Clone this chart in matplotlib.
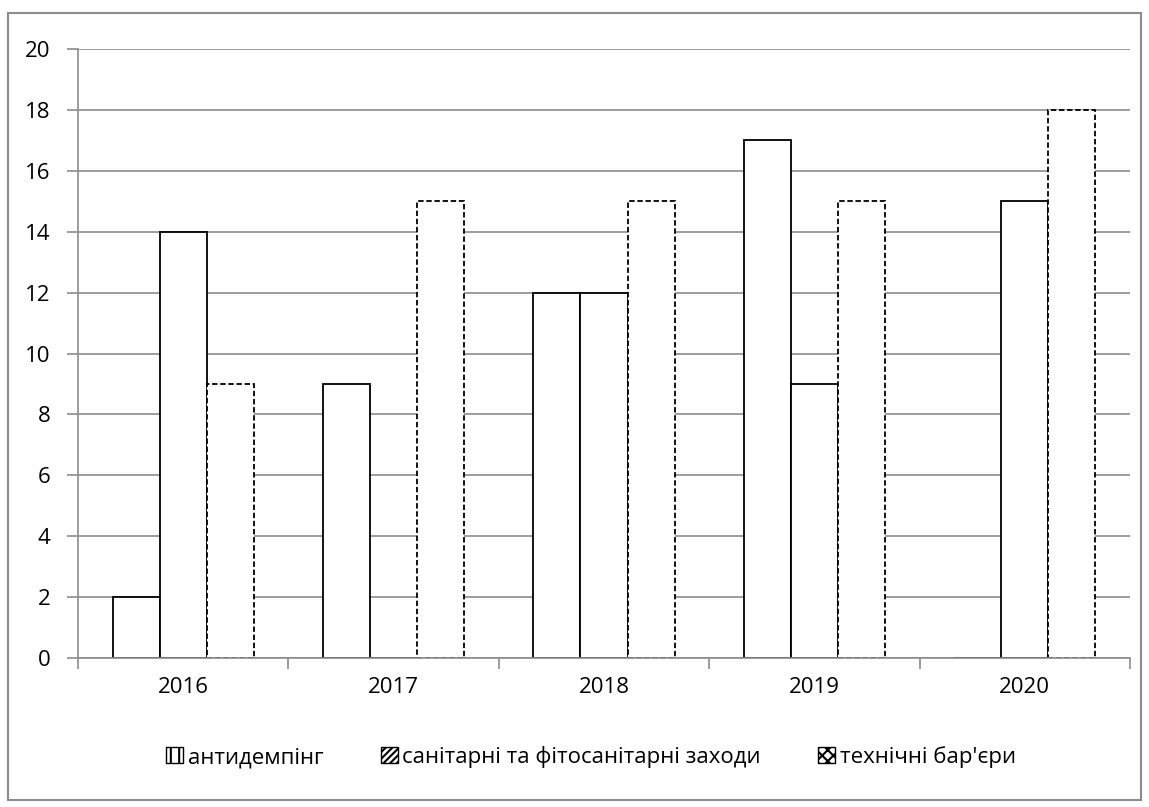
import numpy as np
import matplotlib.pyplot as plt
from matplotlib.patches import Rectangle, Patch

plt.rcParams['font.family'] = ['Open Sans', 'DejaVu Sans']

years = ['2016', '2017', '2018', '2019', '2020']
antidumping = [2, 9, 12, 17, 0]
sanitary = [14, 0, 12, 9, 15]
technical = [9, 15, 15, 15, 18]
labels = ['антидемпінг', 'санітарні та фітосанітарні заходи', 'технічні бар\'єри']

grid_col = '#8c8c8c'

fig = plt.figure(figsize=(11.49, 8.07), dpi=100)
ax = fig.add_axes([78 / 1149, 1 - 658 / 807, (1130 - 78) / 1149, (658 - 49) / 807])

# outer chart border
fig.patches.append(Rectangle((8 / 1149, 1 - 800 / 807), 1133 / 1149, 787 / 807,
                             transform=fig.transFigure, fill=False,
                             edgecolor=grid_col, linewidth=1.5))

x = np.arange(len(years))
w = 0.224
ax.bar(x - w, antidumping, w, facecolor='white', edgecolor='black', linewidth=1.3, zorder=2)
ax.bar(x, sanitary, w, facecolor='white', edgecolor='black', linewidth=1.3, zorder=2)
ax.bar(x + w, technical, w, facecolor='white', edgecolor='black', linewidth=1.3,
       linestyle=(0, (3, 1.5)), zorder=2)

ax.set_xlim(-0.5, len(years) - 0.5)
ax.set_ylim(0, 20)
ax.set_yticks(range(0, 21, 2))
ax.set_xticks(x)
ax.set_xticklabels(years)
ax.set_xticks(np.arange(-0.5, len(years)), minor=True)
ax.tick_params(axis='x', which='major', length=0, pad=14, labelsize=16)
ax.tick_params(axis='x', which='minor', length=8, color=grid_col, width=1.2)
ax.tick_params(axis='y', length=8, color=grid_col, width=1.2, pad=12, labelsize=16)
ax.yaxis.grid(True, color=grid_col, linewidth=1.2, zorder=0)
ax.set_axisbelow(True)
for s in ['top', 'right']:
    ax.spines[s].set_visible(False)
for s in ['left', 'bottom']:
    ax.spines[s].set_color(grid_col)
    ax.spines[s].set_linewidth(1.2)
    ax.spines[s].set_zorder(3)

plt.rcParams['hatch.linewidth'] = 1.5
handles = [
    Patch(facecolor='white', edgecolor='black', hatch='||'),
    Patch(facecolor='white', edgecolor='black', hatch='/////'),
    Patch(facecolor='white', edgecolor='black', hatch='xxx'),
]
fig.legend(handles, labels, loc='center', bbox_to_anchor=(591 / 1149, 1 - 757 / 807),
           ncol=3, frameon=False, fontsize=16, handlelength=0.75, handleheight=0.75,
           handletextpad=0.2, columnspacing=2.6, borderaxespad=0, borderpad=0)

fig.savefig('out.png', dpi=100)
